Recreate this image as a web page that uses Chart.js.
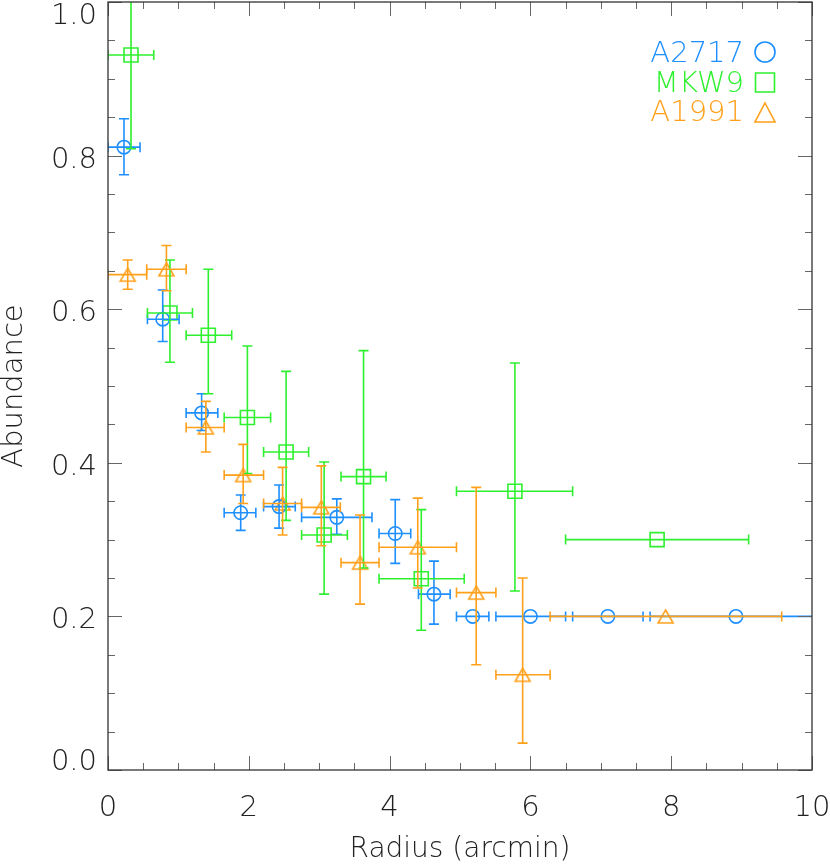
<!DOCTYPE html>
<html lang="en">
<head>
  <meta charset="UTF-8">
  <title>Abundance vs Radius</title>
  <script src="https://cdn.jsdelivr.net/npm/chart.js"></script>
  <style>
    * { margin: 0; padding: 0; box-sizing: border-box; }
    body { background: #fff; width: 830px; height: 864px; overflow: hidden; }
  </style>
</head>
<body>
  <canvas id="abundanceChart" width="830" height="864"></canvas>

  <script>
    // A2717 (circles)
    const a2717X   = [0.227, 0.777, 1.33, 1.885, 2.43, 3.25, 4.08, 4.63, 5.18, 6.00, 7.10, 8.92];
    const a2717Y   = [0.811, 0.587, 0.465, 0.335, 0.343, 0.329, 0.308, 0.229, 0.200, 0.200, 0.200, 0.200];
    const a2717XLo = [0.00, 0.56, 1.11, 1.65, 2.21, 2.75, 3.85, 4.41, 4.95, 5.51, 6.60, 7.70];
    const a2717XHi = [0.455, 1.01, 1.56, 2.10, 2.66, 3.75, 4.30, 4.86, 5.41, 6.50, 7.60, 10.2];
    const a2717YLo = [0.775, 0.558, 0.442, 0.312, 0.315, 0.307, 0.269, 0.190, null, null, null, null];
    const a2717YHi = [0.848, 0.625, 0.490, 0.358, 0.371, 0.353, 0.352, 0.272, null, null, null, null];

    // MKW9 (squares)
    const mkw9X   = [0.327, 0.88, 1.425, 1.98, 2.53, 3.07, 3.63, 4.45, 5.78, 7.80];
    const mkw9Y   = [0.931, 0.595, 0.566, 0.459, 0.414, 0.306, 0.382, 0.249, 0.363, 0.300];
    const mkw9XLo = [0.00, 0.56, 1.11, 1.65, 2.21, 2.75, 3.31, 3.85, 4.95, 6.50];
    const mkw9XHi = [0.65, 1.20, 1.757, 2.31, 2.85, 3.40, 3.95, 5.06, 6.60, 9.10];
    const mkw9YLo = [0.809, 0.531, 0.490, 0.386, 0.325, 0.229, 0.263, 0.182, 0.233, null];
    const mkw9YHi = [1.10, 0.664, 0.652, 0.552, 0.519, 0.401, 0.546, 0.339, 0.530, null];

    // A1991 (triangles)
    const a1991X   = [0.28, 0.83, 1.39, 1.92, 2.48, 3.03, 3.58, 4.40, 5.23, 5.89, 7.92];
    const a1991Y   = [0.645, 0.652, 0.446, 0.384, 0.347, 0.342, 0.270, 0.290, 0.231, 0.124, 0.200];
    const a1991XLo = [0.00, 0.55, 1.11, 1.65, 2.21, 2.75, 3.31, 3.85, 4.95, 5.51, 6.28];
    const a1991XHi = [0.55, 1.11, 1.65, 2.21, 2.75, 3.30, 3.85, 4.95, 5.51, 6.28, 9.57];
    const a1991YLo = [0.626, 0.624, 0.414, 0.347, 0.306, 0.292, 0.216, 0.237, 0.137, 0.035, null];
    const a1991YHi = [0.664, 0.683, 0.480, 0.424, 0.394, 0.396, 0.332, 0.354, 0.368, 0.250, null];

    const seriesNames = ['A2717', 'MKW9', 'A1991'];
    const seriesColors = ['#1e8fff', '#2ef02e', '#ffa01a'];

    const xTickValues = [0, 2, 4, 6, 8, 10];
    const xTickLabels = ['0', '2', '4', '6', '8', '10'];
    const yTickValues = [0, 0.2, 0.4, 0.6, 0.8, 1.0];
    const yTickLabels = ['0.0', '0.2', '0.4', '0.6', '0.8', '1.0'];

    const FONT = '"DejaVu Sans", sans-serif';
    const LINE_W = 1.6;

    // hollow triangle centred on its bounding box
    function triangleImage(w, h, color, lw) {
      const c = document.createElement('canvas');
      c.width = Math.ceil(w + lw * 2);
      c.height = Math.ceil(h + lw * 2);
      const g = c.getContext('2d');
      const cx = c.width / 2, cy = c.height / 2;
      g.strokeStyle = color;
      g.lineWidth = lw;
      g.beginPath();
      g.moveTo(cx, cy - h / 2);
      g.lineTo(cx + w / 2, cy + h / 2);
      g.lineTo(cx - w / 2, cy + h / 2);
      g.closePath();
      g.stroke();
      return c;
    }

    const toPoints = (xs, ys) => xs.map((x, i) => ({ x: x, y: ys[i] }));

    const errors = [
      { xlo: a2717XLo, xhi: a2717XHi, ylo: a2717YLo, yhi: a2717YHi },
      { xlo: mkw9XLo, xhi: mkw9XHi, ylo: mkw9YLo, yhi: mkw9YHi },
      { xlo: a1991XLo, xhi: a1991XHi, ylo: a1991YLo, yhi: a1991YHi }
    ];

    // error bars with small caps, clipped to the plot box
    const errorBars = {
      id: 'errorBars',
      afterDatasetsDraw(chart) {
        const { ctx, chartArea: a, scales: { x, y } } = chart;
        const cap = 5;
        ctx.save();
        ctx.beginPath();
        ctx.rect(a.left, a.top, a.right - a.left, a.bottom - a.top);
        ctx.clip();
        ctx.lineWidth = LINE_W;
        chart.data.datasets.forEach((ds, k) => {
          const e = errors[k];
          ctx.strokeStyle = seriesColors[k];
          ds.data.forEach((p, i) => {
            const px = x.getPixelForValue(p.x), py = y.getPixelForValue(p.y);
            const x0 = x.getPixelForValue(e.xlo[i]), x1 = x.getPixelForValue(e.xhi[i]);
            ctx.beginPath();
            ctx.moveTo(x0, py); ctx.lineTo(x1, py);
            ctx.moveTo(x0, py - cap); ctx.lineTo(x0, py + cap);
            ctx.moveTo(x1, py - cap); ctx.lineTo(x1, py + cap);
            if (e.ylo[i] !== null) {
              const y0 = y.getPixelForValue(e.ylo[i]), y1 = y.getPixelForValue(e.yhi[i]);
              ctx.moveTo(px, y0); ctx.lineTo(px, y1);
              ctx.moveTo(px - cap, y0); ctx.lineTo(px + cap, y0);
              ctx.moveTo(px - cap, y1); ctx.lineTo(px + cap, y1);
            }
            ctx.stroke();
          });
        });
        ctx.restore();
      }
    };

    // box, inward ticks on all four sides, tick labels
    const frame = {
      id: 'frame',
      afterDraw(chart) {
        const { ctx, chartArea: a, scales: { x, y } } = chart;
        ctx.save();
        ctx.strokeStyle = '#666';
        ctx.lineWidth = 1;
        ctx.beginPath();
        for (let v = 0; v <= 10.001; v += 0.5) {
          const px = Math.round(x.getPixelForValue(v)) + 0.5;
          const len = Math.abs(v / 2 - Math.round(v / 2)) < 1e-6 ? 14 : 7;
          ctx.moveTo(px, a.bottom); ctx.lineTo(px, a.bottom - len);
          ctx.moveTo(px, a.top); ctx.lineTo(px, a.top + len);
        }
        for (let v = 0; v <= 1.0001; v += 0.05) {
          const py = Math.round(y.getPixelForValue(v)) + 0.5;
          const len = Math.abs(v / 0.2 - Math.round(v / 0.2)) < 1e-6 ? 14 : 7;
          ctx.moveTo(a.left, py); ctx.lineTo(a.left + len, py);
          ctx.moveTo(a.right, py); ctx.lineTo(a.right - len, py);
        }
        ctx.stroke();
        ctx.strokeStyle = '#333';
        ctx.lineWidth = 1.3;
        ctx.strokeRect(a.left, a.top, a.right - a.left, a.bottom - a.top);

        ctx.fillStyle = '#222';
        ctx.font = '200 29px ' + FONT;
        const half = 11;
        ctx.textAlign = 'right';
        ctx.textBaseline = 'alphabetic';
        yTickValues.forEach((v, i) => {
          let c = y.getPixelForValue(v) + 1;
          c = Math.min(Math.max(c, a.top + half), a.bottom - half);
          ctx.fillText(yTickLabels[i], a.left - 11, c + half);
        });
        ctx.textAlign = 'center';
        xTickValues.forEach((v, i) => {
          ctx.fillText(xTickLabels[i], x.getPixelForValue(v), 816);
        });
        ctx.restore();
      }
    };

    // legend: coloured names, symbol to the right
    const legendBox = {
      id: 'legendBox',
      afterDraw(chart) {
        const ctx = chart.ctx;
        const rows = [51, 81, 110];
        const symX = 765;
        ctx.save();
        ctx.font = '200 29px ' + FONT;
        ctx.textAlign = 'right';
        ctx.textBaseline = 'alphabetic';
        ctx.lineWidth = LINE_W;
        seriesNames.forEach((name, k) => {
          const yc = rows[k];
          ctx.fillStyle = seriesColors[k];
          ctx.strokeStyle = seriesColors[k];
          ctx.fillText(name, 744, yc + 10.5);
          ctx.beginPath();
          if (k === 0) {
            ctx.arc(symX, yc + 1, 10, 0, Math.PI * 2);
          } else if (k === 1) {
            ctx.rect(symX - 9.5, yc - 8, 19, 19);
          } else {
            ctx.moveTo(symX, yc - 7);
            ctx.lineTo(symX + 10, yc + 12);
            ctx.lineTo(symX - 10, yc + 12);
            ctx.closePath();
          }
          ctx.stroke();
        });
        ctx.restore();
      }
    };

    new Chart(document.getElementById('abundanceChart'), {
      type: 'scatter',
      data: {
        datasets: [
          {
            label: seriesNames[0],
            data: toPoints(a2717X, a2717Y),
            pointStyle: 'circle',
            radius: 6.7,
            borderWidth: LINE_W,
            borderColor: seriesColors[0],
            backgroundColor: 'rgba(0,0,0,0)'
          },
          {
            label: seriesNames[1],
            data: toPoints(mkw9X, mkw9Y),
            pointStyle: 'rect',
            radius: 9.9,
            borderWidth: LINE_W,
            borderColor: seriesColors[1],
            backgroundColor: 'rgba(0,0,0,0)'
          },
          {
            label: seriesNames[2],
            data: toPoints(a1991X, a1991Y),
            pointStyle: triangleImage(15, 13, seriesColors[2], LINE_W),
            radius: 8,
            borderWidth: LINE_W,
            borderColor: seriesColors[2],
            backgroundColor: 'rgba(0,0,0,0)'
          }
        ]
      },
      options: {
        responsive: false,
        animation: false,
        clip: false,
        layout: { autoPadding: false, padding: { top: 2, right: 18, left: 0, bottom: 0 } },
        plugins: { legend: { display: false }, tooltip: { enabled: false } },
        scales: {
          x: {
            type: 'linear', min: 0, max: 10,
            grid: { display: false }, border: { display: false },
            ticks: { display: false },
            title: {
              display: true, text: 'Radius (arcmin)', color: '#222',
              font: { family: FONT, size: 28, weight: '200', lineHeight: 1 },
              padding: 0
            },
            afterFit: s => { s.height = 94; s.paddingLeft = 0; s.paddingRight = 0; }
          },
          y: {
            type: 'linear', min: 0, max: 1,
            grid: { display: false }, border: { display: false },
            ticks: { display: false },
            title: {
              display: true, text: 'Abundance', color: '#222',
              font: { family: FONT, size: 29, weight: '200', lineHeight: 1 },
              padding: 0
            },
            afterFit: s => { s.width = 108; s.paddingTop = 0; s.paddingBottom = 0; }
          }
        }
      },
      plugins: [errorBars, frame, legendBox]
    });
  </script>
</body>
</html>
